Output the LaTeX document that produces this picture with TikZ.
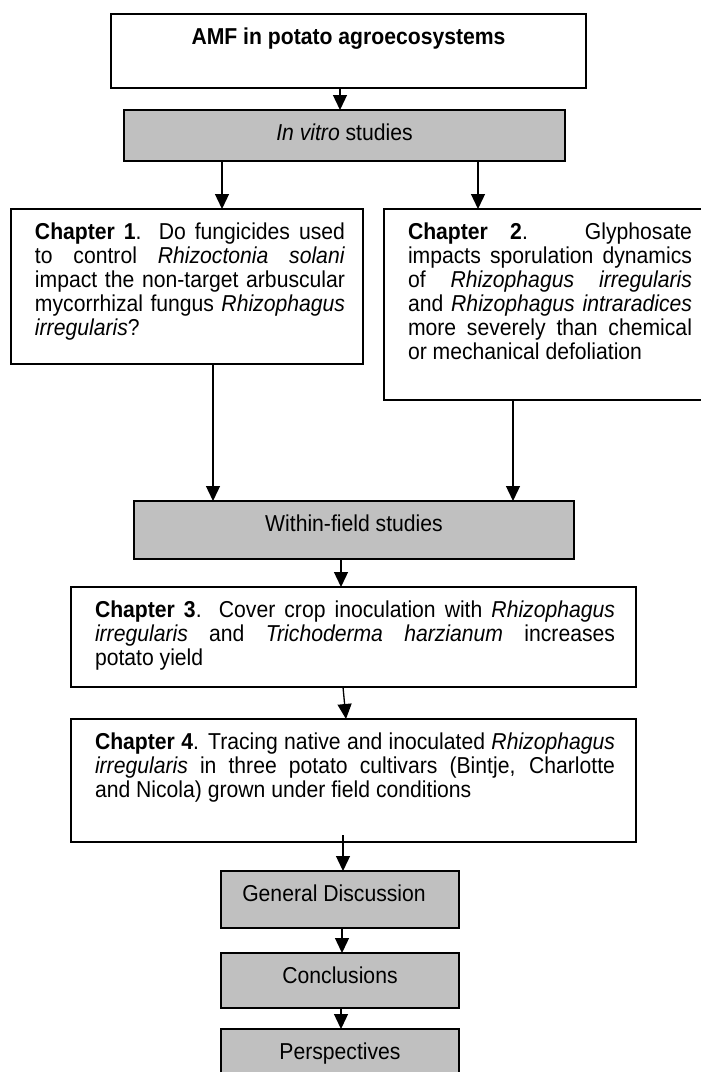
\documentclass[tikz,border=0pt]{standalone}
\usepackage{fontspec}
\setmainfont{Liberation Sans}[FakeStretch=0.92]
\usetikzlibrary{arrows.meta}
\definecolor{boxgray}{HTML}{C0C0C0}
\newcommand{\cbody}[5]{\parbox[c][#2][t]{#1}{\fontsize{23}{24}\selectfont\hyphenpenalty=10000 \leftskip=#3\relax\rightskip=#4\relax\rule{0pt}{30.5pt}#5}}
\newcommand{\gbody}[3]{\parbox[c][#2][t]{#1}{\fontsize{23}{24}\selectfont\centering\rule{0pt}{30.5pt}#3}}
\tikzset{
  boxw/.style={draw=black, line width=1.4pt, fill=white, inner sep=0pt, outer sep=0pt, anchor=north west},
  boxg/.style={boxw, fill=boxgray},
  arr/.style={line width=1.3pt, -{Triangle[length=15pt,width=14pt]}},
  edge3/.style={line width=1.4pt}
}
\begin{document}
\begin{tikzpicture}[x=1pt,y=-1pt]
\clip (0,0) rectangle (701,1081);
\fill[white] (0,0) rectangle (701,1081);

\node[boxw] (top) at (111,14) {\gbody{475pt}{74pt}{\textbf{AMF in potato agroecosystems}}};
\node[boxg] (invitro) at (124,110) {\gbody{441pt}{51pt}{\textit{In vitro} studies}};

\node[boxw] (ch1) at (11,209) {\cbody{352pt}{155pt}{24pt}{18pt}{\textbf{Chapter 1}. Do fungicides used\linebreak to control \textit{Rhizoctonia solani}\linebreak impact the non-target arbuscular\linebreak mycorrhizal fungus \textit{Rhizophagus}\linebreak \textit{irregularis}?}};
\node[boxw] (ch2) at (384,209) {\cbody{336pt}{191pt}{24pt}{28pt}{\textbf{Chapter 2}. Glyphosate\linebreak impacts sporulation dynamics\linebreak of \textit{Rhizophagus irregularis}\linebreak and \textit{Rhizophagus intraradices}\linebreak more severely than chemical\linebreak or mechanical defoliation}};

\node[boxg] (within) at (134,501) {\gbody{440pt}{58pt}{Within-field studies}};

\node[boxw] (ch3) at (71,587) {\cbody{565pt}{100pt}{24pt}{21pt}{\textbf{Chapter 3}. Cover crop inoculation with \textit{Rhizophagus}\linebreak \textit{irregularis} and \textit{Trichoderma harzianum} increases\linebreak potato yield}};
\node[boxw] (ch4) at (71,719) {\cbody{565pt}{123pt}{24pt}{21pt}{\textbf{Chapter 4}. Tracing native and inoculated \textit{Rhizophagus}\linebreak \textit{irregularis} in three potato cultivars (Bintje, Charlotte\linebreak and Nicola) grown under field conditions}};

\node[boxg] (gd) at (221,871) {\gbody{238pt}{57pt}{General Discussion\hspace*{12pt}}};
\node[boxg] (concl) at (221,953) {\gbody{238pt}{55pt}{Conclusions}};
\node[boxg, draw=none] (persp) at (221,1029) {\gbody{238pt}{43pt}{Perspectives}};
\draw[edge3] (persp.south west) -- (persp.north west) -- (persp.north east) -- (persp.south east);

\draw[arr] ([xshift=229pt]top.south west) -- ([xshift=216pt]invitro.north west);
\draw[arr] ([xshift=98pt]invitro.south west) -- ([xshift=211pt]ch1.north west);
\draw[arr] ([xshift=354pt]invitro.south west) -- ([xshift=94pt]ch2.north west);
\draw[arr] ([xshift=202pt]ch1.south west) -- ([xshift=79pt]within.north west);
\draw[arr] ([xshift=129pt]ch2.south west) -- ([xshift=379pt]within.north west);
\draw[arr] ([xshift=207pt]within.south west) -- ([xshift=270pt]ch3.north west);
\draw[arr] ([xshift=272pt]ch3.south west) -- ([xshift=275pt]ch4.north west);
\draw[arr] ([xshift=272pt,yshift=7pt]ch4.south west) -- ([xshift=122pt]gd.north west);
\draw[arr] ([xshift=121pt]gd.south west) -- ([xshift=121pt]concl.north west);
\draw[arr] ([xshift=120pt]concl.south west) -- ([xshift=120pt]persp.north west);
\end{tikzpicture}
\end{document}
